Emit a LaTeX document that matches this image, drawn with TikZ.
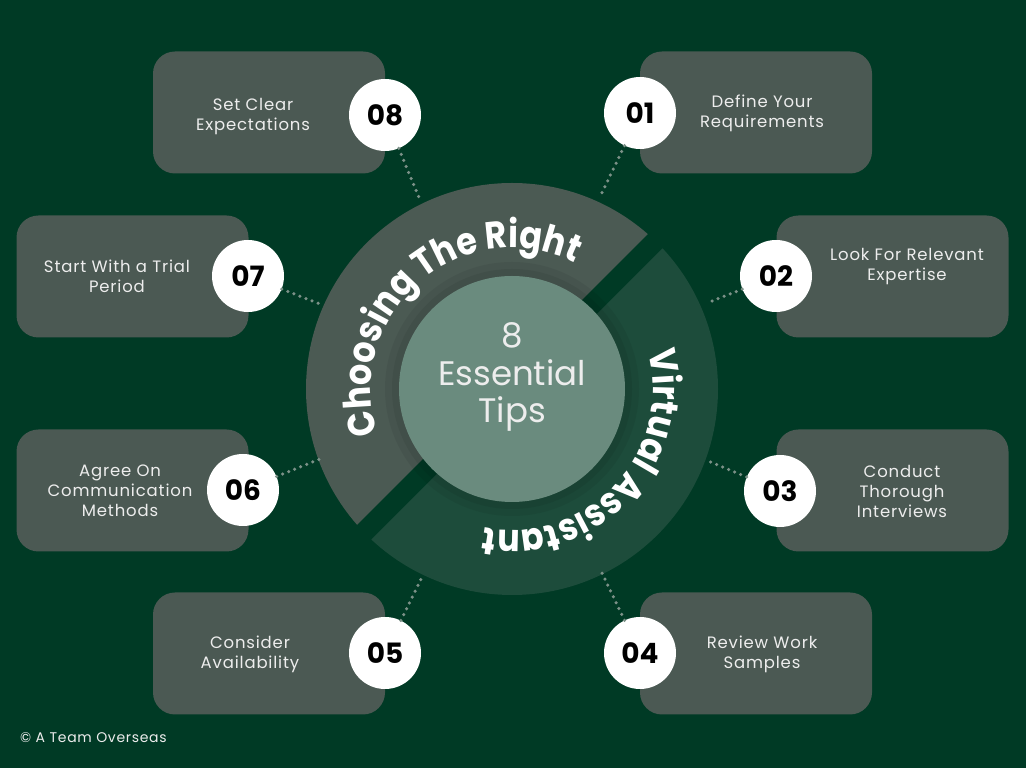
\documentclass[tikz,border=0pt]{standalone}
\usepackage{fontspec}
\setmainfont{Poppins}
\newfontfamily\boxfont{Poppins}[LetterSpace=5]
\newfontfamily\curvefont{Poppins}[FakeStretch=0.88]
\usetikzlibrary{decorations.text}
\definecolor{bg}{HTML}{003A25}
\definecolor{boxgray}{HTML}{4B5953}
\definecolor{ringgray}{HTML}{4B5A53}
\definecolor{ringgreen}{HTML}{1D4C3B}
\definecolor{innerc}{HTML}{6A8B7E}
\definecolor{dotc}{HTML}{7C9188}
\definecolor{txt}{HTML}{EDEDED}
\begin{document}
\begin{tikzpicture}[x=1pt,y=1pt,
  tipbox/.style={fill=boxgray, rounded corners=22pt, minimum width=232pt, minimum height=122pt, inner sep=0pt},
  tiptext/.style={text=txt, font=\boxfont\fontsize{16.5}{20}\selectfont, align=center, inner sep=0pt},
  numc/.style={circle, fill=white, minimum size=72pt, inner sep=0pt, font=\bfseries\fontsize{28}{30}\selectfont, text=black},
  dots/.style={draw=dotc, line width=3.5pt, line cap=round, dash pattern=on 0pt off 6.5pt},
  curve/.style={decorate, decoration={text along path, text align=center, text color=white}},
]
\fill[bg] (0,0) rectangle (1026,768);
\useasboundingbox (0,0) rectangle (1026,768);

% ring halves
\begin{scope}
  \clip (-300,-414) -- (1100,986) -- (-300,986) -- cycle;
  \fill[ringgray] (512,379) circle[radius=206pt];
\end{scope}
\begin{scope}
  \clip (-300,-443) -- (1100,957) -- (1100,-443) -- cycle;
  \fill[ringgreen] (512,379) circle[radius=206pt];
\end{scope}
\fill[black, opacity=0.06] (512,379) circle[radius=127pt];
\fill[black, opacity=0.06] (512,379) circle[radius=120pt];
\node[circle, fill=innerc, minimum size=226pt, inner sep=0pt] (hub) at (512,379) {};
\node[text=txt, align=center, font=\fontsize{34}{37.5}\selectfont, inner sep=0pt] (title) at (512,391) {8\\Essential\\Tips};

\path[curve, decoration={text={|\curvefont\bfseries\fontsize{38}{38}\selectfont|Choosing The Right}}]
  (512,379) ++(241:141pt) arc[start angle=241, end angle=21, radius=141pt];
\path[curve, decoration={text={|\curvefont\bfseries\fontsize{38}{38}\selectfont|Virtual Assistant}}]
  (512,379) ++(67:141pt) arc[start angle=67, end angle=-153, radius=141pt];

% boxes
\node[tipbox] (b1) at (756,655.5) {};
\node[tipbox] (b2) at (892.5,491.5) {};
\node[tipbox] (b3) at (892.5,277.5) {};
\node[tipbox] (b4) at (756,114.5) {};
\node[tipbox] (b5) at (269,114.5) {};
\node[tipbox] (b6) at (132.5,277.5) {};
\node[tipbox] (b7) at (132.5,491.5) {};
\node[tipbox] (b8) at (269,655.5) {};

\node[tiptext] (t1) at (762,655) {Define Your\\Requirements};
\node[tiptext] (t2) at (907,501) {Look For Relevant\\Expertise};
\node[tiptext] (t3) at (902,277) {Conduct\\Thorough\\Interviews};
\node[tiptext] (t4) at (762,114) {Review Work\\Samples};
\node[tiptext] (t5) at (250,114) {Consider\\Availability};
\node[tiptext] (t6) at (120,277) {Agree On\\Communication\\Methods};
\node[tiptext] (t7) at (117,492) {Start With a Trial\\Period};
\node[tiptext] (t8) at (253,651) {Set Clear\\Expectations};

% number circles
\node[numc] (n1) at (640,655) {01};
\node[numc] (n2) at (776,492) {02};
\node[numc] (n3) at (780,277) {03};
\node[numc] (n4) at (640,115) {04};
\node[numc] (n5) at (385,115) {05};
\node[numc] (n6) at (243,278) {06};
\node[numc] (n7) at (248,492) {07};
\node[numc] (n8) at (385,653) {08};

% dotted connectors
\coordinate (e1) at (600,571);
\coordinate (e2) at (707,465);
\coordinate (e3) at (708,307);
\coordinate (e4) at (602,195);
\coordinate (e5) at (423,193);
\coordinate (e6) at (320,309);
\coordinate (e7) at (320,464);
\coordinate (e8) at (420,568);
\foreach \i in {1,...,8} \draw[dots] (n\i) -- (e\i);

\node[anchor=base west, text=txt, font=\boxfont\fontsize{14}{16}\selectfont, inner sep=0pt] (copy) at (20,25) {© A Team Overseas};
\end{tikzpicture}
\end{document}
